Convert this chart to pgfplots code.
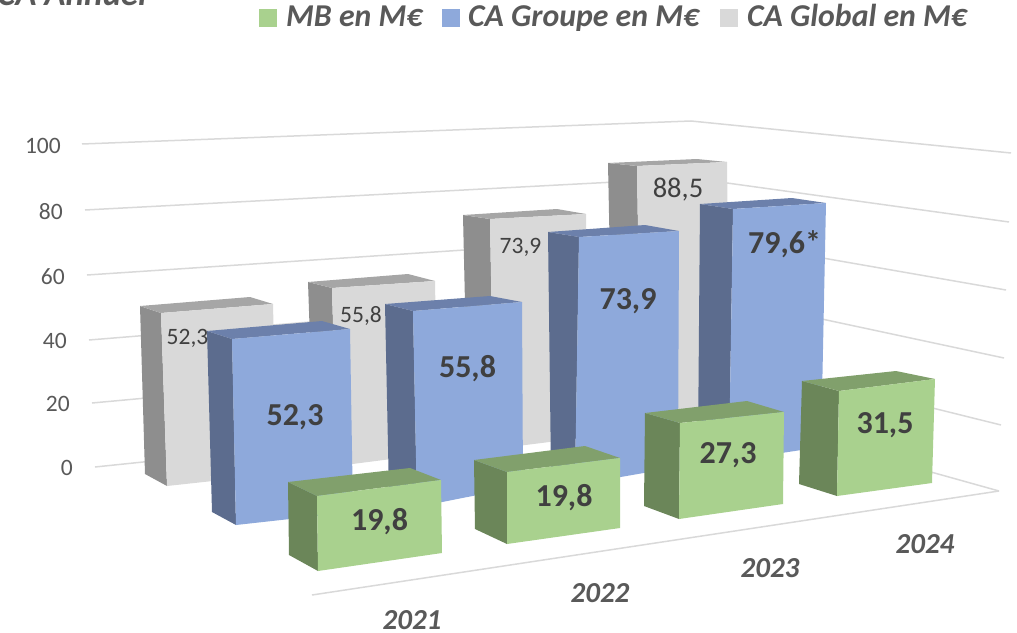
\documentclass[border=0pt]{standalone}
\usepackage{fontspec}
\setmainfont{Carlito}
\usepackage{pgfplots}
\pgfplotsset{compat=1.18}
\definecolor{gF}{HTML}{D9D9D9}\definecolor{gS}{HTML}{8E8E8E}\definecolor{gT}{HTML}{A6A6A6}
\definecolor{bF}{HTML}{8EA9DB}\definecolor{bS}{HTML}{5C6C8E}\definecolor{bT}{HTML}{6C80AB}
\definecolor{vF}{HTML}{A9D18E}\definecolor{vS}{HTML}{6B8659}\definecolor{vT}{HTML}{81A06C}
\definecolor{gridc}{HTML}{D9D9D9}\definecolor{txt}{HTML}{595959}\definecolor{lab}{HTML}{404040}
\newcommand{\barbox}[8]{% colour, BLt, FLt, FRt, BRt, BLb, FLb, FRb
  \addplot[fill=#1S,draw=none,forget plot] coordinates {#2 #3 #7 #6} --cycle;
  \addplot[fill=#1T,draw=none,forget plot] coordinates {#2 #3 #4 #5} --cycle;
  \addplot[fill=#1F,draw=none,forget plot] coordinates {#3 #4 #8 #7} --cycle;
}
\newcommand{\gridl}[3]{\addplot[gridc,line width=1.5bp,forget plot] coordinates {#1 #2 #3};}
\newcommand{\sz}[1]{\fontsize{#1bp}{#1bp}\selectfont}
\begin{document}
\begin{tikzpicture}
\path[use as bounding box] (0,0) rectangle (1017bp,633bp);
\clip (0,0) rectangle (1017bp,633bp);
\begin{axis}[at={(0,0)},anchor=south west,scale only axis,width=1017bp,height=633bp,
  xmin=0,xmax=1017,ymin=0,ymax=633,y dir=reverse,hide axis,clip=false]
% wall and floor lines, value axis 0 to 100
\gridl{(82,144)}{(691,121)}{(1011,153)}
\gridl{(85,210)}{(691,178)}{(1009,222)}
\gridl{(87,275)}{(691,235)}{(1006,290)}
\gridl{(89,340)}{(691,291)}{(1004,358)}
\gridl{(92,403)}{(691,348)}{(1001,425)}
\gridl{(95,467)}{(691,405)}{(999,491)}
\addplot[gridc,line width=1.5bp,forget plot] coordinates {(312,595) (999,491)};
% CA Global: 52,3 55,8 73,9 88,5
\barbox{g}{(140,306)}{(161,313)}{(273,304)}{(250,297)}{(145,474)}{(167,486)}{(277,474)}
\barbox{g}{(308,282)}{(332,288)}{(435,281)}{(408,274)}{(314,455)}{(337,466)}{(438,453)}
\barbox{g}{(463,215)}{(490,219)}{(586,214)}{(557,209)}{(468,436)}{(494,449)}{(589,437)}
\barbox{g}{(608,163)}{(637,166)}{(727,162)}{(697,159)}{(613,412)}{(641,425)}{(730,413)}
\node[anchor=base,text=lab,font=\sz{23.5}] at (187.5,344) {52,3};
\node[anchor=base,text=lab,font=\sz{23.5}] at (361,322) {55,8};
\node[anchor=base,text=lab,font=\sz{23.5}] at (520.5,253) {73,9};
\node[anchor=base,text=lab,font=\sz{28.5}] at (678,197) {88,5};
% CA Groupe: 52,3 55,8 73,9 79,6
\barbox{b}{(207,331)}{(232,339)}{(350,329)}{(322,321)}{(212,512)}{(236,525)}{(353,512)}
\barbox{b}{(385,304)}{(413,311)}{(522,302)}{(490,296)}{(389,494)}{(417,507)}{(523,486)}
\barbox{b}{(548,232)}{(579,237)}{(679,231)}{(645,225)}{(551,472)}{(575,485)}{(678,467)}
\barbox{b}{(700,204)}{(733,209)}{(826,203)}{(792,198)}{(698,448)}{(729,461)}{(821,447)}
\node[anchor=base,text=lab,font=\sz{32}\bfseries] at (295,425) {52,3};
\node[anchor=base,text=lab,font=\sz{32}\bfseries] at (467.5,377) {55,8};
\node[anchor=base,text=lab,font=\sz{32}\bfseries] at (628,309) {73,9};
\node[anchor=base,text=lab,font=\sz{32}\bfseries] at (784.5,253) {79,6*};
% MB: 19,8 19,8 27,3 31,5
\barbox{v}{(288,482)}{(317,496)}{(441,480)}{(410,468)}{(289,555)}{(318,571)}{(442,553)}
\barbox{v}{(474,460)}{(507,472)}{(620,458)}{(585,446)}{(475,529)}{(507,544)}{(620,528)}
\barbox{v}{(645,413)}{(680,423)}{(784,412)}{(747,401)}{(644,506)}{(679,519)}{(783,504)}
\barbox{v}{(802,381)}{(839,391)}{(935,379)}{(896,371)}{(799,484)}{(837,496)}{(932,483)}
\node[anchor=base,text=lab,font=\sz{32}\bfseries] at (379.5,530) {19,8};
\node[anchor=base,text=lab,font=\sz{32}\bfseries] at (564,506) {19,8};
\node[anchor=base,text=lab,font=\sz{32}\bfseries] at (728,463) {27,3};
\node[anchor=base,text=lab,font=\sz{32}\bfseries] at (885,433) {31,5};
% value ticks
\node[anchor=base east,inner xsep=0pt,text=txt,font=\sz{23.5}] at (61,153) {100};
\node[anchor=base east,inner xsep=0pt,text=txt,font=\sz{23.5}] at (63,219) {80};
\node[anchor=base east,inner xsep=0pt,text=txt,font=\sz{23.5}] at (65,284) {60};
\node[anchor=base east,inner xsep=0pt,text=txt,font=\sz{23.5}] at (67,348) {40};
\node[anchor=base east,inner xsep=0pt,text=txt,font=\sz{23.5}] at (70,411) {20};
\node[anchor=base east,inner xsep=0pt,text=txt,font=\sz{23.5}] at (73,475) {0};
% years
\node[anchor=base,text=txt,font=\sz{29}\bfseries\itshape] at (412,629) {2021};
\node[anchor=base,text=txt,font=\sz{29}\bfseries\itshape] at (600,602) {2022};
\node[anchor=base,text=txt,font=\sz{29}\bfseries\itshape] at (770,577) {2023};
\node[anchor=base,text=txt,font=\sz{29}\bfseries\itshape] at (925,553) {2024};
% legend
\addplot[fill=vF,draw=none,forget plot] coordinates {(259,9) (277,9) (277,27) (259,27)} --cycle;
\addplot[fill=bF,draw=none,forget plot] coordinates {(442,9) (460,9) (460,27) (442,27)} --cycle;
\addplot[fill=gF,draw=none,forget plot] coordinates {(720,9) (738,9) (738,27) (720,27)} --cycle;
\node[anchor=base west,inner xsep=0pt,text=txt,font=\sz{31.8}\bfseries\itshape] at (286,27) {MB en M€};
\node[anchor=base west,inner xsep=0pt,text=txt,font=\sz{31.8}\bfseries\itshape] at (468,27) {CA Groupe en M€};
\node[anchor=base west,inner xsep=0pt,text=txt,font=\sz{31.8}\bfseries\itshape] at (747,27) {CA Global en M€};
% title, cut by the picture's top edge
\node[anchor=base east,inner xsep=0pt,text=txt,font=\sz{35}\bfseries\itshape] at (147,6) {CA Annuel};
\end{axis}
\end{tikzpicture}
\end{document}
